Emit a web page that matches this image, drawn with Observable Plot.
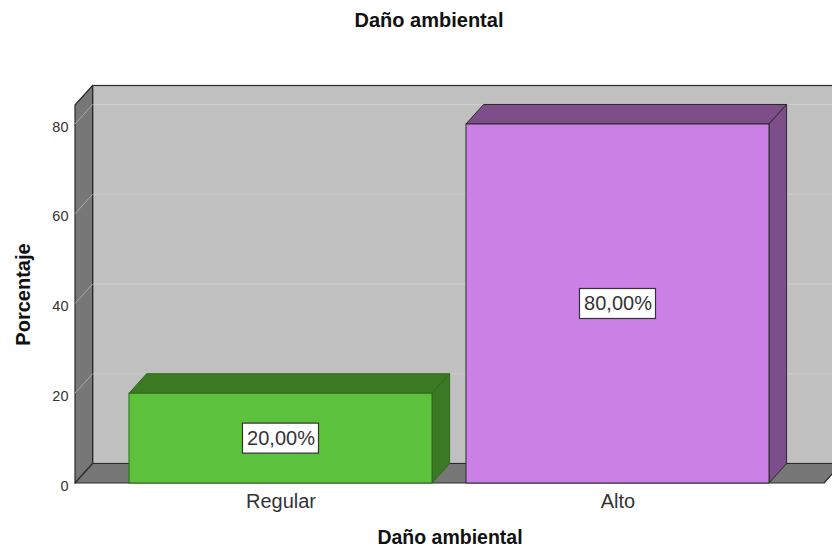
<!DOCTYPE html>
<html><head><meta charset="utf-8">
<script src="https://cdn.jsdelivr.net/npm/d3@7"></script>
<script src="https://cdn.jsdelivr.net/npm/@observablehq/plot@0.6"></script>
<style>
body{margin:0;background:#fff;width:832px;height:548px;overflow:hidden;font-family:"Liberation Sans",Arial,sans-serif;}
#title{box-sizing:border-box;width:832px;height:40px;line-height:40px;padding-left:26px;text-align:center;font-weight:bold;font-size:20px;color:#111;}
#chart svg{display:block;}
</style></head><body>
<div id="title">Daño ambiental</div>
<div id="chart"></div>
<script>
// ---- data ----
const categories = ["Regular", "Alto"];
const percentages = [20, 80];
const valueLabels = ["20,00%", "80,00%"];
const yTicks = [0, 20, 40, 60, 80];
const yMax = 84.23;
const xTitle = "Daño ambiental";
const yTitle = "Porcentaje";

// ---- styles ----
const faceColors = {
  Regular: {front: "#5dc23b", dark: "#3b7a23", edge: "#2f661c"},
  Alto: {front: "#cb80e6", dark: "#7e4e8b", edge: "#2a2a2a"}
};
const WALL = "#c0c0c0", SIDE = "#777777", EDGE = "#2a2a2a", GRID = "#cdcdcd", SIDEGRID = "#a9a9a9";
const DX = 17.6, DY = -19.5;

const data = categories.map((c, i) => ({cat: c, pct: percentages[i], label: valueLabels[i]}));

function poly(g, pts, fill, stroke, sw = 1) {
  g.append("polygon").attr("points", pts.map(p => p.join(",")).join(" "))
    .attr("fill", fill).attr("stroke", stroke).attr("stroke-width", sw).attr("stroke-linejoin", "round");
}

function walls(index, scales, values, dim) {
  const {width, marginLeft, marginRight} = dim;
  const y = scales.y;
  const L = marginLeft, R = width - marginRight, T = y(yMax), B = y(0);
  const g = d3.create("svg:g");
  g.append("rect").attr("x", L + DX).attr("y", T + DY).attr("width", R - L).attr("height", B - T)
    .attr("fill", WALL).attr("stroke", EDGE).attr("stroke-width", 1.2);
  for (const t of yTicks) {
    g.append("line").attr("x1", L + DX).attr("x2", R + DX).attr("y1", y(t) + DY).attr("y2", y(t) + DY)
      .attr("stroke", GRID).attr("stroke-width", 1.2);
  }
  poly(g, [[L, B], [L, T], [L + DX, T + DY], [L + DX, B + DY]], SIDE, EDGE, 1.2);
  for (const t of yTicks) {
    g.append("line").attr("x1", L).attr("x2", L + DX).attr("y1", y(t)).attr("y2", y(t) + DY)
      .attr("stroke", SIDEGRID).attr("stroke-width", 1);
  }
  poly(g, [[L, B], [R, B], [R + DX, B + DY], [L + DX, B + DY]], SIDE, EDGE, 1.2);
  return g.node();
}

function extrude(index, scales, values, dim, ctx, next) {
  const g = d3.create("svg:g");
  const x = scales.x, y = scales.y, bw = x.bandwidth();
  for (const i of index) {
    const d = data[i], c = faceColors[d.cat];
    const x0 = x(d.cat), x1 = x0 + bw, yt = y(d.pct), yb = y(0);
    poly(g, [[x0, yt], [x1, yt], [x1 + DX, yt + DY], [x0 + DX, yt + DY]], c.dark, c.edge, 1);
    poly(g, [[x1, yt], [x1 + DX, yt + DY], [x1 + DX, yb + DY], [x1, yb]], c.dark, c.edge, 1);
  }
  g.append(() => next(index, scales, values, dim, ctx));
  return g.node();
}

function boxed(index, scales, values, dim, ctx, next) {
  const g = d3.create("svg:g");
  const x = scales.x, y = scales.y, bw = x.bandwidth();
  for (const i of index) {
    const d = data[i];
    const cx = x(d.cat) + bw / 2, cy = y(d.pct / 2);
    g.append("rect").attr("x", cx - 38).attr("y", cy - 15).attr("width", 76).attr("height", 30)
      .attr("fill", "#fff").attr("stroke", "#333").attr("stroke-width", 1.2);
  }
  g.append(() => next(index, scales, values, dim, ctx));
  return g.node();
}

const chart = Plot.plot({
  width: 832,
  height: 508,
  marginTop: 65,
  marginBottom: 65,
  marginLeft: 75,
  marginRight: 8,
  style: {fontFamily: "'Liberation Sans', Arial, sans-serif", background: "transparent"},
  x: {type: "band", domain: categories, paddingInner: 0.1, paddingOuter: 0.16, axis: null},
  y: {domain: [0, yMax], axis: null},
  marks: [
    Plot.frame({stroke: "none", render: walls}),
    Plot.barY(data, {x: "cat", y: "pct", fill: d => faceColors[d.cat].front, stroke: d => faceColors[d.cat].edge, strokeWidth: 1, render: extrude}),
    Plot.text(yTicks, {y: d => d, text: d => String(d), frameAnchor: "left", dx: -7, dy: 2.5, textAnchor: "end", lineAnchor: "middle", fontSize: 14.5, fill: "#333"}),
    Plot.text(categories, {x: d => d, text: d => d, frameAnchor: "bottom", dy: 18, textAnchor: "middle", lineAnchor: "middle", fontSize: 20, fill: "#333"}),
    Plot.text(data, {x: "cat", y: d => d.pct / 2, text: "label", fontSize: 20, fill: "#333", render: boxed}),
    Plot.text([xTitle], {text: d => d, frameAnchor: "bottom", dy: 54.5, textAnchor: "middle", lineAnchor: "middle", fontSize: 19.5, fontWeight: "bold", fill: "#111"}),
    Plot.text([yTitle], {text: d => d, frameAnchor: "left", dx: -52.4, rotate: -90, textAnchor: "middle", lineAnchor: "middle", fontSize: 20, fontWeight: "bold", fill: "#111"})
  ]
});
document.getElementById("chart").appendChild(chart);
</script>
</body></html>
